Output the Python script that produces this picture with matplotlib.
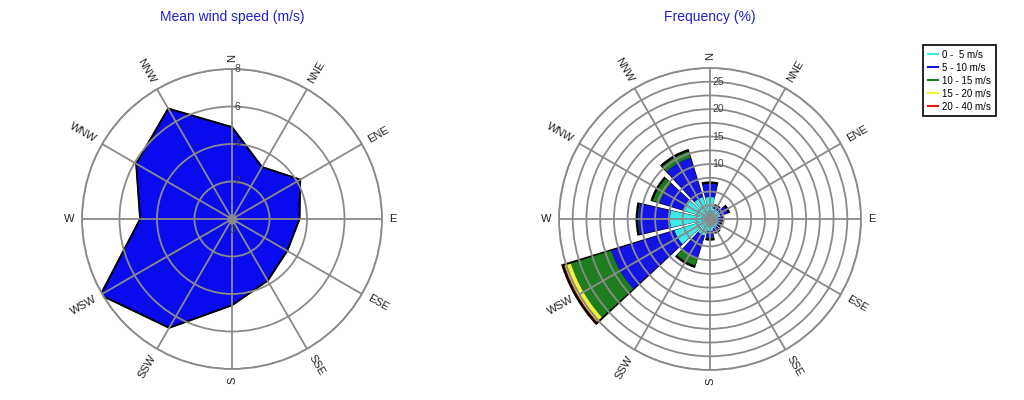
import numpy as np
import matplotlib
matplotlib.use("Agg")
import matplotlib.pyplot as plt
from matplotlib.lines import Line2D
from matplotlib import transforms

plt.rcParams['font.family'] = ['Liberation Sans', 'DejaVu Sans']

# ---- data ----
directions = ['N', 'NNE', 'ENE', 'E', 'ESE', 'SSE', 'S', 'SSW', 'WSW', 'W', 'WNW', 'NNW']
bearings = [0, 30, 60, 90, 120, 150, 180, 210, 240, 270, 300, 330]

mean_speed = [4.9, 3.2, 4.2, 3.6, 3.4, 3.8, 4.6, 6.7, 8.1, 4.9, 5.9, 6.8]

speed_classes = ['0 -  5 m/s', '5 - 10 m/s', '10 - 15 m/s', '15 - 20 m/s', '20 - 40 m/s']
freq_0_5 = [4.0, 2.0, 2.0, 1.6, 1.6, 1.8, 2.2, 3.2, 6.8, 7.3, 5.2, 4.2]
freq_5_10 = [2.4, 0.4, 1.4, 0.5, 0.3, 0.6, 1.2, 4.4, 12.1, 5.7, 4.4, 7.5]
freq_10_15 = [0.0, 0.0, 0.0, 0.0, 0.0, 0.0, 0.1, 1.3, 7.7, 0.1, 1.3, 1.2]
freq_15_20 = [0.0, 0.0, 0.0, 0.0, 0.0, 0.0, 0.0, 0.0, 1.2, 0.0, 0.0, 0.0]
freq_20_40 = [0.0, 0.0, 0.0, 0.0, 0.0, 0.0, 0.0, 0.0, 0.1, 0.0, 0.0, 0.0]

speed_rings = [2, 4, 6, 8]
freq_rings = [2.5, 5, 7.5, 10, 12.5, 15, 17.5, 20, 22.5, 25, 27.5]
freq_ring_labels = {10: '10', 15: '15', 20: '20', 25: '25'}

class_colors = ['#3CEAEA', '#1414E6', '#1E7D1E', '#F2F23C', '#E61414']
grid_col = '#8A8A8A'
title_col = '#2020D0'

W, H = 1024, 400
fig = plt.figure(figsize=(W / 100, H / 100), dpi=100)


def make_axes(cx, cy, r):
    ax = fig.add_axes([(cx - r) / W, (H - cy - r) / H, 2 * r / W, 2 * r / H], projection='polar')
    ax.set_theta_zero_location('N')
    ax.set_theta_direction(-1)
    ax.set_axisbelow(False)
    ax.set_thetagrids(bearings, labels=[''] * len(bearings))
    ax.grid(True, color=grid_col, lw=1.3)
    ax.spines['polar'].set_color(grid_col)
    ax.spines['polar'].set_linewidth(1.3)
    ax.set_facecolor('white')
    return ax


def dir_labels(ax, rmax):
    for lab, b in zip(directions, bearings):
        ang = (90 - b) % 180
        if ang > 90:
            ang -= 180
        if b in (0, 180):
            ang = 90
        ha = 'left' if b < 180 else 'right'
        ax.text(np.deg2rad(b), rmax * 1.05, lab, ha=ha, va='center',
                rotation=ang, rotation_mode='anchor', fontsize=8,
                color='#202020', clip_on=False)


# ---- left: mean wind speed ----
ax1 = make_axes(232, 219, 150)
rmax1 = 8
ax1.set_rgrids(speed_rings, labels=[''] * len(speed_rings))
th = np.deg2rad(bearings + [bearings[0]])
rv = mean_speed + [mean_speed[0]]
ax1.fill(th, rv, color='#0A0AEE', zorder=1)
ax1.plot(th, rv, color='black', lw=1.4, zorder=1.5)
ax1.set_ylim(0, rmax1)
off1 = transforms.offset_copy(ax1.transData, fig=fig, x=2.5, y=0, units='dots')
for r in [0] + speed_rings:
    if r == 0:
        o = transforms.offset_copy(ax1.transData, fig=fig, x=0, y=-11, units='dots')
        ax1.text(0, 0, '0', transform=o, ha='center', va='center', fontsize=7.5, color='#404040')
    else:
        ax1.text(0, r, str(r), transform=off1, ha='left', va='center', fontsize=7.5, color='#404040')
ax1.plot([0], [0], 'o', color=grid_col, ms=6, zorder=4)
dir_labels(ax1, rmax1)
fig.text(232 / W, 1 - 17 / H, 'Mean wind speed (m/s)', ha='center', va='center',
         fontsize=10, color=title_col)

# ---- right: frequency ----
ax2 = make_axes(710, 219, 151)
rmax2 = 27.5
ax2.set_rgrids(freq_rings, labels=[''] * len(freq_rings))
theta = np.deg2rad(bearings)
series = [freq_0_5, freq_5_10, freq_10_15, freq_15_20, freq_20_40]
total = np.sum(np.array(series), axis=0)
ax2.bar(theta, total + 0.45, width=np.deg2rad(26), bottom=0, color='black',
        zorder=0.9, clip_on=False)
bottom = np.zeros(len(bearings))
for vals, col in zip(series, class_colors):
    v = np.array(vals)
    ax2.bar(theta, v, width=np.deg2rad(24.5), bottom=bottom, color=col,
            edgecolor='none', zorder=1, clip_on=False)
    bottom = bottom + v
ax2.set_ylim(0, rmax2)
off2 = transforms.offset_copy(ax2.transData, fig=fig, x=2.5, y=0, units='dots')
for r, lab in freq_ring_labels.items():
    ax2.text(0, r, lab, transform=off2, ha='left', va='center', fontsize=7.5, color='#404040')
ax2.plot([0], [0], 'o', color=grid_col, ms=7, zorder=4)
dir_labels(ax2, rmax2)
fig.text(710 / W, 1 - 17 / H, 'Frequency (%)', ha='center', va='center',
         fontsize=10, color=title_col)

# ---- legend ----
handles = [Line2D([0], [0], color=c, lw=1.5) for c in class_colors]
leg = fig.legend(handles, speed_classes, loc='upper left',
                 bbox_to_anchor=(923 / W, 1 - 45 / H), borderaxespad=0,
                 fontsize=7, handlelength=1.0, handletextpad=0.5,
                 labelspacing=0.3, borderpad=0.5, fancybox=False,
                 framealpha=1, edgecolor='black')
leg.get_frame().set_linewidth(1.2)

fig.savefig('out.png', dpi=100, facecolor='white')
